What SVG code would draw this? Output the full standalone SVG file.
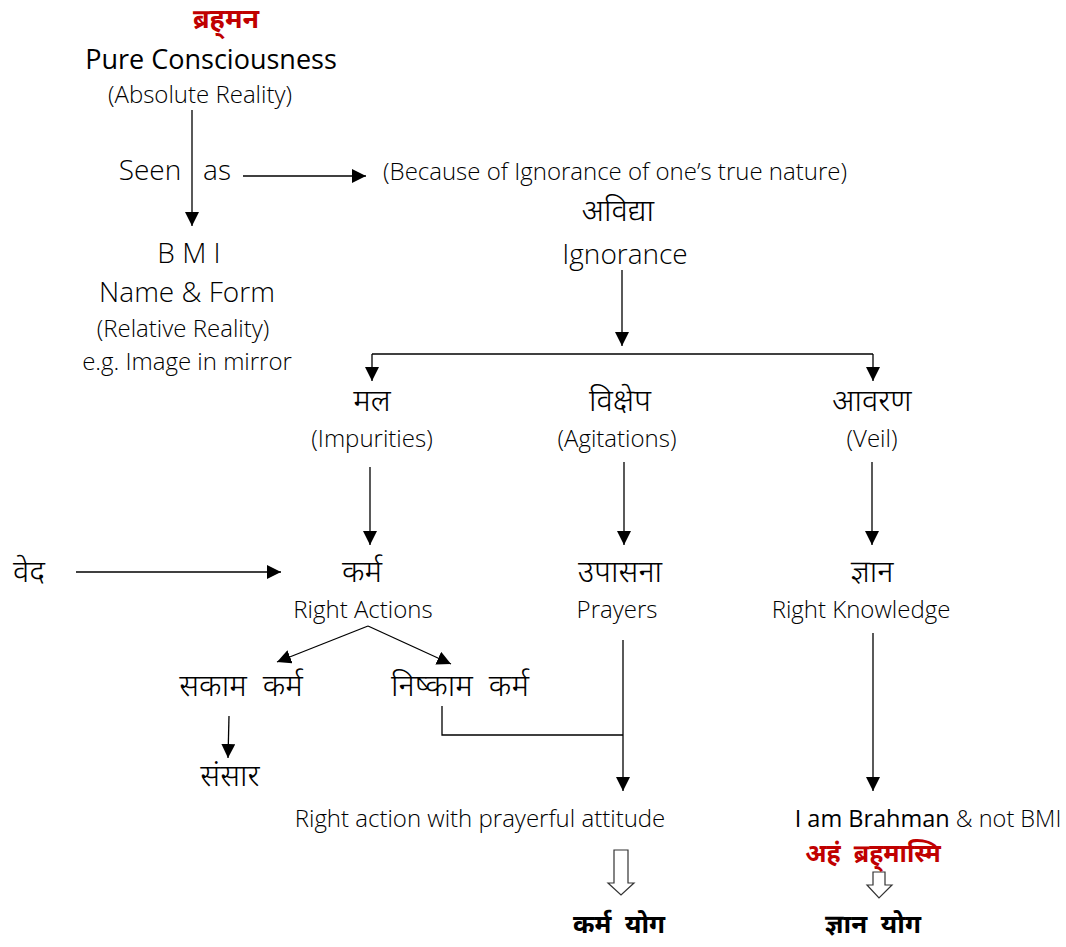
<svg xmlns="http://www.w3.org/2000/svg" width="1066" height="947" viewBox="0 0 1066 947">
<defs>
<style>
.t{font-family:"Open Sans","Noto Sans",sans-serif;font-weight:300;fill:#000;text-anchor:middle;font-size:24px}
.big{font-size:28px}
.d{font-family:"Noto Sans Devanagari","Lohit Devanagari","Noto Sans","Noto Sans CJK SC",sans-serif;font-weight:300;fill:#000;text-anchor:middle;font-size:31px}
.red{fill:#c00000;font-weight:700}
.b{font-weight:700;font-size:26px}
.ln{stroke:#000;stroke-width:1.3;fill:none}
.ho{stroke:#333;stroke-width:1.2;fill:#fff}
</style>
<marker id="ah" viewBox="0 0 10 10" refX="10" refY="5" markerWidth="14" markerHeight="14" markerUnits="userSpaceOnUse" orient="auto"><path d="M0,0 L10,5 L0,10 z" fill="#000"/></marker>
</defs>
<rect width="1066" height="947" fill="#fff"/>
<g id="connectors">
<line class="ln" x1="192" y1="110" x2="192" y2="226" marker-end="url(#ah)"/>
<line class="ln" x1="243" y1="176" x2="366" y2="176" marker-end="url(#ah)"/>
<line class="ln" x1="622" y1="270" x2="622" y2="346" marker-end="url(#ah)"/>
<line class="ln" x1="372" y1="354" x2="873" y2="354"/>
<line class="ln" x1="372" y1="354" x2="372" y2="381" marker-end="url(#ah)"/>
<line class="ln" x1="873" y1="354" x2="873" y2="381" marker-end="url(#ah)"/>
<line class="ln" x1="370" y1="467" x2="370" y2="545" marker-end="url(#ah)"/>
<line class="ln" x1="624" y1="462" x2="624" y2="545" marker-end="url(#ah)"/>
<line class="ln" x1="872" y1="462" x2="872" y2="545" marker-end="url(#ah)"/>
<line class="ln" x1="76" y1="572" x2="281" y2="572" marker-end="url(#ah)"/>
<line class="ln" x1="368" y1="626" x2="277" y2="662" marker-end="url(#ah)"/>
<line class="ln" x1="368" y1="626" x2="451" y2="664" marker-end="url(#ah)"/>
<line class="ln" x1="229" y1="716" x2="228" y2="758" marker-end="url(#ah)"/>
<polyline class="ln" points="442,706 442,735 623,735"/>
<line class="ln" x1="623" y1="640" x2="623" y2="791" marker-end="url(#ah)"/>
<line class="ln" x1="873" y1="633" x2="873" y2="791" marker-end="url(#ah)"/>
<path class="ho" d="M614,850 L628,850 L628,883 L634,883 L621,895 L608,883 L614,883 Z"/>
<path class="ho" d="M873,872 L885,872 L885,885 L892,885 L879,898 L867,885 L873,885 Z"/>
</g>
<g id="brahman">
<text class="d red" x="226" y="28" style="font-size:27px">ब्रह्&#8204;मन</text>
<text class="t big" x="211" y="69" style="font-weight:400;font-size:27px">Pure Consciousness</text>
<text class="t" x="200" y="103">(Absolute Reality)</text>
</g>
<g id="seen-as">
<text class="t big" x="150" y="180">Seen</text>
<text class="t big" x="217" y="180">as</text>
</g>
<g id="bmi">
<text class="t big" x="189" y="263">B M I</text>
<text class="t big" x="187" y="302">Name &amp; Form</text>
<text class="t" x="183" y="337">(Relative Reality)</text>
<text class="t" x="187" y="370">e.g. Image in mirror</text>
</g>
<g id="avidya">
<text class="t" x="615" y="180">(Because of Ignorance of one’s true nature)</text>
<text class="d" x="618" y="221">अविद्या</text>
<text class="t big" x="625" y="264">Ignorance</text>
</g>
<g id="mala">
<text class="d" x="372" y="411">मल</text>
<text class="t" x="372" y="447">(Impurities)</text>
</g>
<g id="vikshepa">
<text class="d" x="620" y="411">विक्षेप</text>
<text class="t" x="617" y="447">(Agitations)</text>
</g>
<g id="avarana">
<text class="d" x="872" y="411">आवरण</text>
<text class="t" x="872" y="447">(Veil)</text>
</g>
<g id="veda">
<text class="d" x="29" y="582">वेद</text>
</g>
<g id="karma">
<text class="d" x="362" y="582">कर्म</text>
<text class="t" x="363" y="618">Right Actions</text>
</g>
<g id="upasana">
<text class="d" x="620" y="582">उपासना</text>
<text class="t" x="617" y="618">Prayers</text>
</g>
<g id="jnana">
<text class="d" x="872" y="582">ज्ञान</text>
<text class="t" x="861" y="618">Right Knowledge</text>
</g>
<g id="sakama">
<text class="d" x="241" y="696">सकाम&#160; कर्म</text>
</g>
<g id="nishkama">
<text class="d" x="460" y="696">निष्काम&#160; कर्म</text>
</g>
<g id="samsara">
<text class="d" x="230" y="786">संसार</text>
</g>
<g id="prayerful">
<text class="t" x="480" y="827">Right action with prayerful attitude</text>
</g>
<g id="karma-yoga">
<text class="d b" x="619" y="933">कर्म&#160; योग</text>
</g>
<g id="aham">
<text class="t" x="928" y="827" style="font-size:23.5px"><tspan style="font-weight:400">I am Brahman</tspan> &amp; not BMI</text>
<text class="d red" x="873" y="862" style="font-size:25px">अहं&#160; ब्रह्&#8204;मास्मि</text>
</g>
<g id="jnana-yoga">
<text class="d b" x="873" y="933">ज्ञान&#160; योग</text>
</g>
</svg>
